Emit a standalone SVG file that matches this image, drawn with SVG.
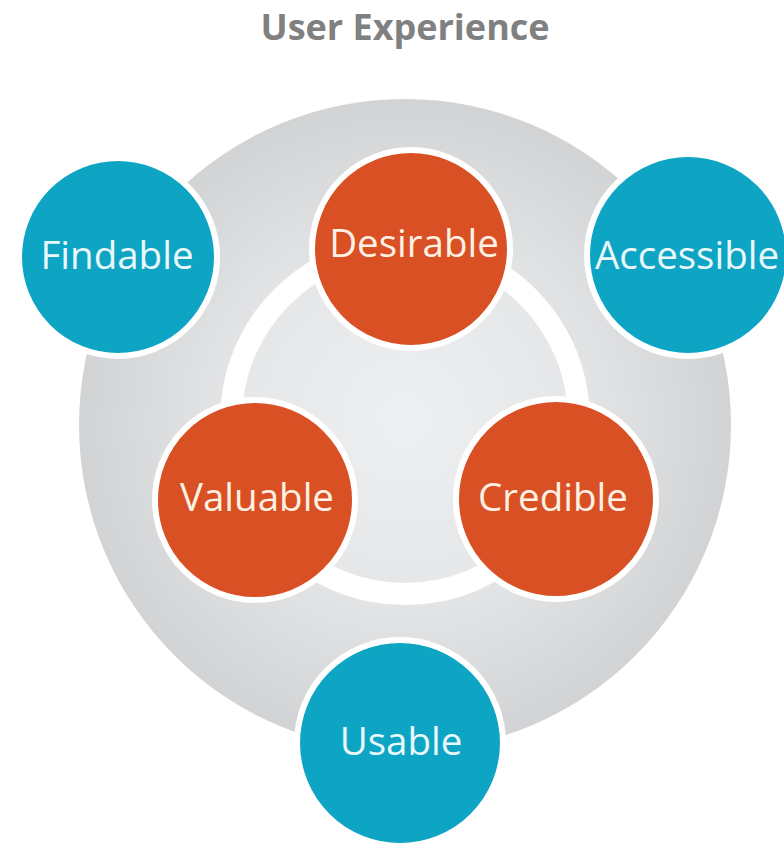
<svg xmlns="http://www.w3.org/2000/svg" width="784" height="846" viewBox="0 0 784 846">
<defs>
<radialGradient id="gOuter" cx="0.5" cy="0.5" r="0.5">
<stop offset="0.55" stop-color="#e3e4e6"/>
<stop offset="1" stop-color="#d2d3d5"/>
</radialGradient>
<radialGradient id="gInner" cx="0.5" cy="0.5" r="0.5">
<stop offset="0" stop-color="#eeeff0"/>
<stop offset="1" stop-color="#e6e7e8"/>
</radialGradient>
</defs>
<style>
.teal{fill:#0ea5c5;stroke:#ffffff;stroke-width:6}
.orange{fill:#d95025;stroke:#ffffff;stroke-width:6}
.lbl{font-family:"Open Sans","Noto Sans",sans-serif;font-size:38.5px;text-anchor:middle}
.lt{fill:#eaf8fb}
.lo{fill:#fdf1e4}
.title{font-family:"Open Sans","Noto Sans",sans-serif;font-weight:bold;font-size:36px;fill:#808080;text-anchor:middle}
</style>
<rect width="784" height="846" fill="#ffffff"/>
<text class="title" x="405" y="40">User Experience</text>
<g id="background">
<circle cx="405" cy="425" r="326" fill="url(#gOuter)"/>
<circle cx="405" cy="420" r="185" fill="#ffffff"/>
<circle cx="405" cy="420" r="163" fill="url(#gInner)"/>
</g>
<g id="connectors"></g>
<g id="desirable">
<circle class="orange" cx="411" cy="249" r="99"/>
<text class="lbl lo" x="414" y="257">Desirable</text>
</g>
<g id="valuable">
<circle class="orange" cx="255" cy="500" r="100"/>
<text class="lbl lo" x="257" y="511">Valuable</text>
</g>
<g id="credible">
<circle class="orange" cx="556" cy="499" r="100"/>
<text class="lbl lo" x="553" y="511">Credible</text>
</g>
<g id="findable">
<circle class="teal" cx="118" cy="257" r="99"/>
<text class="lbl lt" x="117" y="269">Findable</text>
</g>
<g id="accessible">
<circle class="teal" cx="688" cy="255" r="101"/>
<text class="lbl lt" x="687" y="269">Accessible</text>
</g>
<g id="usable">
<circle class="teal" cx="400" cy="743" r="103"/>
<text class="lbl lt" x="401" y="755">Usable</text>
</g>
</svg>
